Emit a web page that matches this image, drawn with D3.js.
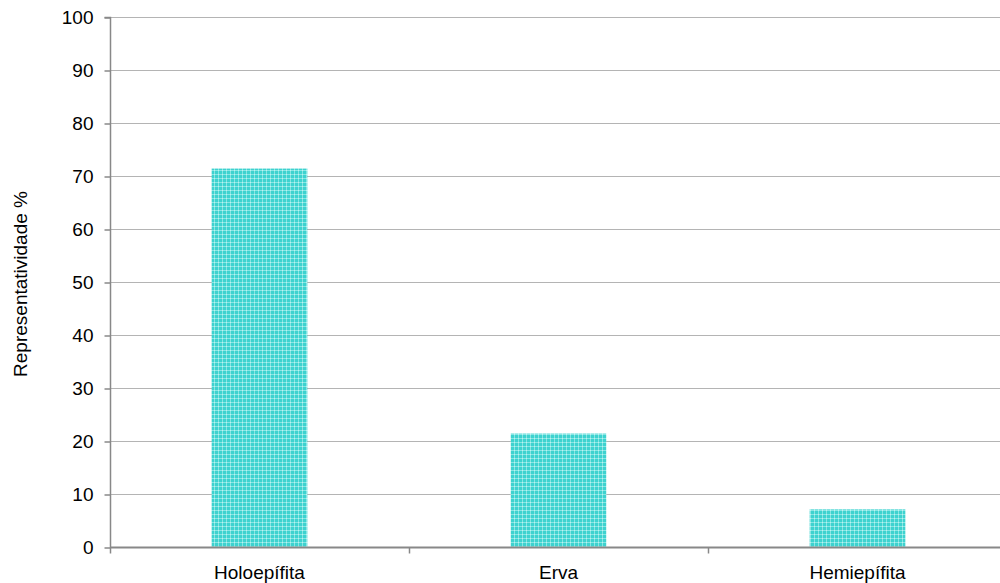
<html>
<head>
<meta charset="utf-8">
<script src="https://d3js.org/d3.v7.min.js"></script>
<style>
  body {margin: 0; background: #fff;}
  text {font-family: "Liberation Sans", Arial, sans-serif; fill: #000;}
</style>
</head>
<body>
<svg width="1000" height="583"></svg>
<script>
var categories = ["Holoepífita", "Erva", "Hemiepífita"];
var values = [71.4, 21.4, 7.1];
var yTicks = [0, 10, 20, 30, 40, 50, 60, 70, 80, 90, 100];

var svg = d3.select("svg");
var mLeft = 110, mRight = 1007, mTop = 17, mBottom = 547;

var x = d3.scaleBand().domain(categories).range([mLeft, mRight]).padding(0);
var y = d3.scaleLinear().domain([0, 100]).range([mBottom, mTop]);

// checkered fill like the original
var defs = svg.append("defs");
var pat = defs.append("pattern").attr("id", "check")
  .attr("patternUnits", "userSpaceOnUse").attr("width", 4).attr("height", 4);
pat.append("rect").attr("width", 4).attr("height", 4).attr("fill", "#3ed2cf");
pat.append("rect").attr("x", 0).attr("y", 2).attr("width", 4).attr("height", 1).attr("fill", "#86e6e3");
pat.append("rect").attr("x", 2).attr("y", 0).attr("width", 1).attr("height", 4).attr("fill", "#86e6e3");
pat.append("rect").attr("x", 2).attr("y", 2).attr("width", 1).attr("height", 1).attr("fill", "#bdf2f0");

// gridlines
svg.append("g").selectAll("line").data(yTicks.filter(function(d){return d > 0;})).enter().append("line")
  .attr("x1", mLeft).attr("x2", 1000)
  .attr("y1", function(d){return y(d) + 0.5;})
  .attr("y2", function(d){return y(d) + 0.5;})
  .attr("stroke", "#b4b4b4").attr("stroke-width", 1);

// bars
var barW = x.bandwidth() * 0.32;
svg.append("g").selectAll("rect").data(values).enter().append("rect")
  .attr("x", function(d, i){return x(categories[i]) + (x.bandwidth() - barW) / 2;})
  .attr("y", function(d){return y(d);})
  .attr("width", barW)
  .attr("height", function(d){return mBottom - y(d);})
  .attr("fill", "url(#check)");

// y axis
var yAxis = d3.axisLeft(y).tickValues(yTicks).tickSize(6).tickPadding(11);
var gy = svg.append("g").attr("transform", "translate(" + (mLeft + 0.5) + ",0.5)").call(yAxis);
gy.selectAll("path, line").attr("stroke", "#888").attr("stroke-width", 1.5);
gy.select(".domain").attr("d", "M-6," + mTop + "H0V" + mBottom);
gy.selectAll("text").attr("font-size", 19).attr("font-family", "Liberation Sans, Arial, sans-serif").attr("fill", "#000");

// x axis
var xTickPos = categories.map(function(c){return x(c);});
var gx = svg.append("g").attr("transform", "translate(0," + (mBottom + 0.5) + ")");
gx.append("line").attr("x1", mLeft).attr("x2", 1000).attr("y1", 0).attr("y2", 0)
  .attr("stroke", "#888").attr("stroke-width", 2);
gx.selectAll("line.tick").data(xTickPos).enter().append("line").attr("class", "tick")
  .attr("x1", function(d){return d + 0.5;}).attr("x2", function(d){return d + 0.5;})
  .attr("y1", 0).attr("y2", 6).attr("stroke", "#888").attr("stroke-width", 1.5);
gx.selectAll("text").data(categories).enter().append("text")
  .attr("x", function(d){return x(d) + x.bandwidth() / 2;})
  .attr("y", 31)
  .attr("text-anchor", "middle").attr("font-size", 19)
  .text(function(d){return d;});

// y title
svg.append("text")
  .attr("transform", "translate(27," + ((mTop + mBottom) / 2 + 2) + ") rotate(-90)")
  .attr("text-anchor", "middle").attr("font-size", 19)
  .text("Representatividade %");
</script>
</body>
</html>
